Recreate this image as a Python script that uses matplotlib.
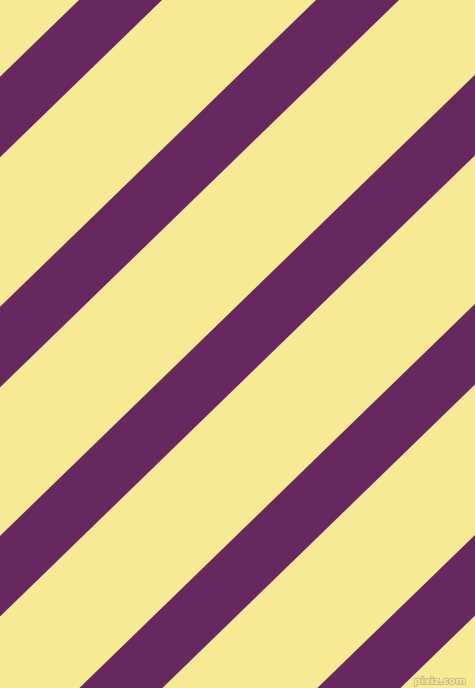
import numpy as np
import matplotlib.pyplot as plt
import matplotlib.patheffects as pe

# pattern values (x + k*y = offset)
stripe_offsets = [79, 316, 552, 788, 1026]
stripe_width = 83
slope_k = 1.03
width_px, height_px = 475, 688

background_color = "#F8E994"
stripe_color = "#66285F"

fig = plt.figure(figsize=(width_px / 100, height_px / 100), dpi=100)
ax = fig.add_axes([0, 0, 1, 1])
ax.set_facecolor(background_color)
fig.patch.set_facecolor(background_color)

y = np.array([-5.0, height_px + 5.0])
for c in stripe_offsets:
    ax.fill_betweenx(y, c - slope_k * y, c + stripe_width - slope_k * y,
                     color=stripe_color, linewidth=0, antialiased=True)

ax.set_xlim(0, width_px)
ax.set_ylim(height_px, 0)
ax.axis("off")

# watermark
ax.text(466, 681, "pixiz.com", ha="right", va="center", fontsize=7,
        color="#F8EBA0", fontweight="bold",
        path_effects=[pe.withStroke(linewidth=1.2, foreground="#C9B877")])

fig.savefig("out.png", dpi=100, facecolor=background_color)
